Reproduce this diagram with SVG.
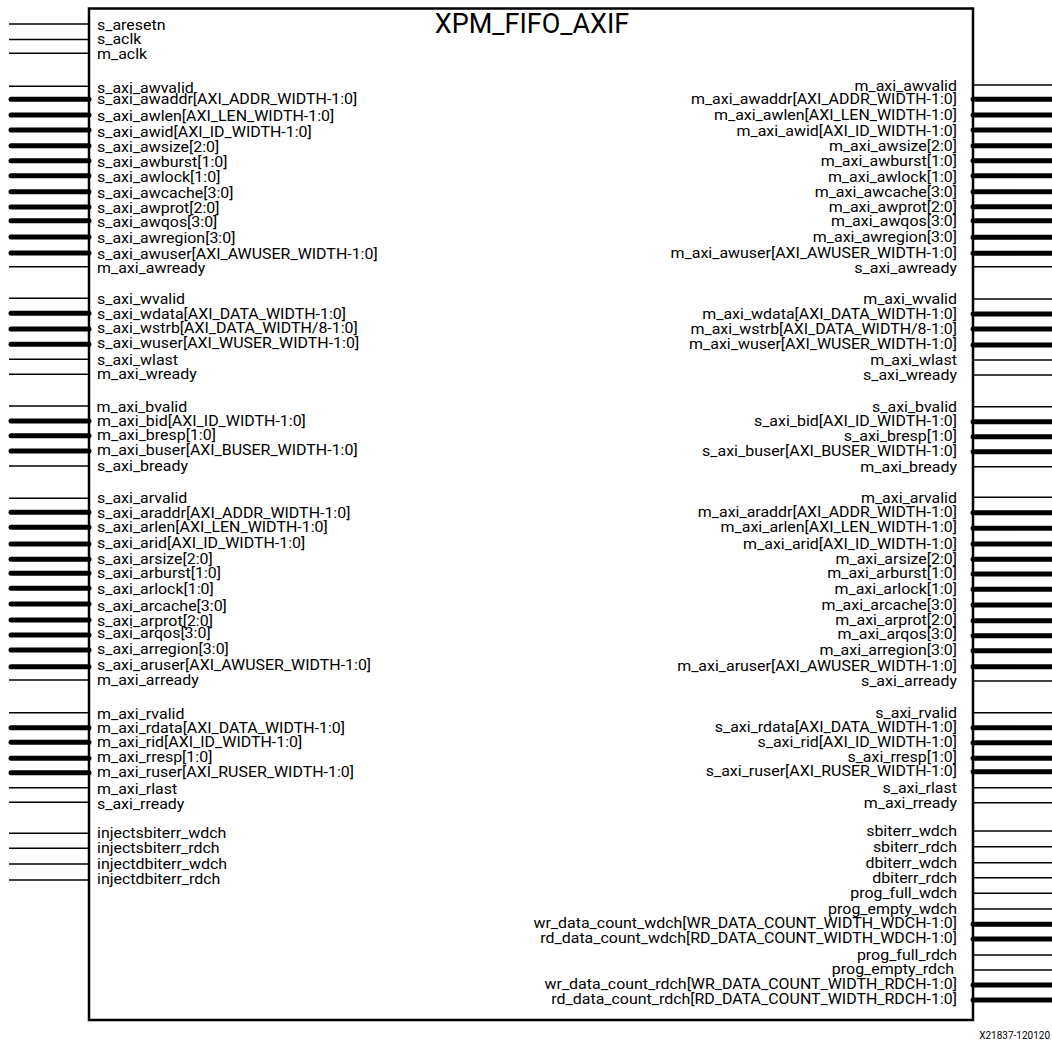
<svg xmlns="http://www.w3.org/2000/svg" width="1052" height="1042" viewBox="0 0 1052 1042">
<style>
.t{stroke:#000;stroke-width:1.5;fill:none}
.b{stroke:#000;stroke-width:5;stroke-linecap:round;fill:none}
.lbl{font-family:Roboto,"Liberation Sans",sans-serif;font-size:14.5px;fill:#000}
.r{text-anchor:end}
.title{font-family:Roboto,"Liberation Sans",sans-serif;font-size:27px;fill:#000;text-anchor:middle}
.foot{font-family:Roboto,"Liberation Sans",sans-serif;font-size:10px;fill:#000;text-anchor:end}
</style>
<rect width="1052" height="1042" fill="#fff"/>
<g id="connectors">
<g id="left-pins">
<line class="t" x1="9" y1="24" x2="89" y2="24"/>
<line class="t" x1="9" y1="39.5" x2="89" y2="39.5"/>
<line class="t" x1="9" y1="53.3" x2="89" y2="53.3"/>
<line class="t" x1="9" y1="86.3" x2="89" y2="86.3"/>
<line class="b" x1="11" y1="99.3" x2="89" y2="99.3"/>
<line class="b" x1="11" y1="115" x2="89" y2="115"/>
<line class="b" x1="11" y1="130" x2="89" y2="130"/>
<line class="b" x1="11" y1="145.7" x2="89" y2="145.7"/>
<line class="b" x1="11" y1="160.7" x2="89" y2="160.7"/>
<line class="b" x1="11" y1="175.7" x2="89" y2="175.7"/>
<line class="b" x1="11" y1="191.7" x2="89" y2="191.7"/>
<line class="b" x1="11" y1="207" x2="89" y2="207"/>
<line class="b" x1="11" y1="220.7" x2="89" y2="220.7"/>
<line class="b" x1="11" y1="237" x2="89" y2="237"/>
<line class="b" x1="11" y1="253" x2="89" y2="253"/>
<line class="t" x1="9" y1="266.7" x2="89" y2="266.7"/>
<line class="t" x1="9" y1="298.3" x2="89" y2="298.3"/>
<line class="b" x1="11" y1="313.3" x2="89" y2="313.3"/>
<line class="b" x1="11" y1="329" x2="89" y2="329"/>
<line class="b" x1="11" y1="344.3" x2="89" y2="344.3"/>
<line class="t" x1="9" y1="359.3" x2="89" y2="359.3"/>
<line class="t" x1="9" y1="374.3" x2="89" y2="374.3"/>
<line class="t" x1="9" y1="406" x2="89" y2="406"/>
<line class="b" x1="11" y1="421" x2="89" y2="421"/>
<line class="b" x1="11" y1="435.7" x2="89" y2="435.7"/>
<line class="b" x1="11" y1="451" x2="89" y2="451"/>
<line class="t" x1="9" y1="466" x2="89" y2="466"/>
<line class="t" x1="9" y1="498.3" x2="89" y2="498.3"/>
<line class="b" x1="11" y1="512.3" x2="89" y2="512.3"/>
<line class="b" x1="11" y1="527.3" x2="89" y2="527.3"/>
<line class="b" x1="11" y1="544" x2="89" y2="544"/>
<line class="b" x1="11" y1="559.3" x2="89" y2="559.3"/>
<line class="b" x1="11" y1="573.3" x2="89" y2="573.3"/>
<line class="b" x1="11" y1="588.3" x2="89" y2="588.3"/>
<line class="b" x1="11" y1="604" x2="89" y2="604"/>
<line class="b" x1="11" y1="620" x2="89" y2="620"/>
<line class="b" x1="11" y1="635" x2="89" y2="635"/>
<line class="b" x1="11" y1="650" x2="89" y2="650"/>
<line class="b" x1="11" y1="666.7" x2="89" y2="666.7"/>
<line class="t" x1="9" y1="680" x2="89" y2="680"/>
<line class="t" x1="9" y1="712.7" x2="89" y2="712.7"/>
<line class="b" x1="11" y1="727.7" x2="89" y2="727.7"/>
<line class="b" x1="11" y1="742.3" x2="89" y2="742.3"/>
<line class="b" x1="11" y1="758.3" x2="89" y2="758.3"/>
<line class="b" x1="11" y1="772.7" x2="89" y2="772.7"/>
<line class="t" x1="9" y1="787.7" x2="89" y2="787.7"/>
<line class="t" x1="9" y1="802.3" x2="89" y2="802.3"/>
<line class="t" x1="9" y1="833.3" x2="89" y2="833.3"/>
<line class="t" x1="9" y1="848.3" x2="89" y2="848.3"/>
<line class="t" x1="9" y1="864" x2="89" y2="864"/>
<line class="t" x1="9" y1="880" x2="89" y2="880"/>
</g>
<g id="right-pins">
<line class="t" x1="973" y1="85" x2="1052" y2="85"/>
<line class="b" x1="973" y1="99.3" x2="1056" y2="99.3"/>
<line class="b" x1="973" y1="115" x2="1056" y2="115"/>
<line class="b" x1="973" y1="130" x2="1056" y2="130"/>
<line class="b" x1="973" y1="145.7" x2="1056" y2="145.7"/>
<line class="b" x1="973" y1="160.7" x2="1056" y2="160.7"/>
<line class="b" x1="973" y1="175.7" x2="1056" y2="175.7"/>
<line class="b" x1="973" y1="191.7" x2="1056" y2="191.7"/>
<line class="b" x1="973" y1="206.7" x2="1056" y2="206.7"/>
<line class="b" x1="973" y1="220.7" x2="1056" y2="220.7"/>
<line class="b" x1="973" y1="237.3" x2="1056" y2="237.3"/>
<line class="b" x1="973" y1="253.3" x2="1056" y2="253.3"/>
<line class="t" x1="973" y1="266.7" x2="1052" y2="266.7"/>
<line class="t" x1="973" y1="299" x2="1052" y2="299"/>
<line class="b" x1="973" y1="314" x2="1056" y2="314"/>
<line class="b" x1="973" y1="329" x2="1056" y2="329"/>
<line class="b" x1="973" y1="345" x2="1056" y2="345"/>
<line class="t" x1="973" y1="360" x2="1052" y2="360"/>
<line class="t" x1="973" y1="375" x2="1052" y2="375"/>
<line class="t" x1="973" y1="406.7" x2="1052" y2="406.7"/>
<line class="b" x1="973" y1="421.7" x2="1056" y2="421.7"/>
<line class="b" x1="973" y1="436.7" x2="1056" y2="436.7"/>
<line class="b" x1="973" y1="451.7" x2="1056" y2="451.7"/>
<line class="t" x1="973" y1="466.7" x2="1052" y2="466.7"/>
<line class="t" x1="973" y1="497.3" x2="1052" y2="497.3"/>
<line class="b" x1="973" y1="512.7" x2="1056" y2="512.7"/>
<line class="b" x1="973" y1="528.3" x2="1056" y2="528.3"/>
<line class="b" x1="973" y1="544" x2="1056" y2="544"/>
<line class="b" x1="973" y1="559.3" x2="1056" y2="559.3"/>
<line class="b" x1="973" y1="574" x2="1056" y2="574"/>
<line class="b" x1="973" y1="589.3" x2="1056" y2="589.3"/>
<line class="b" x1="973" y1="605" x2="1056" y2="605"/>
<line class="b" x1="973" y1="620.7" x2="1056" y2="620.7"/>
<line class="b" x1="973" y1="635.7" x2="1056" y2="635.7"/>
<line class="b" x1="973" y1="650.7" x2="1056" y2="650.7"/>
<line class="b" x1="973" y1="666.7" x2="1056" y2="666.7"/>
<line class="t" x1="973" y1="681" x2="1052" y2="681"/>
<line class="t" x1="973" y1="712.7" x2="1052" y2="712.7"/>
<line class="b" x1="973" y1="727.7" x2="1056" y2="727.7"/>
<line class="b" x1="973" y1="742.7" x2="1056" y2="742.7"/>
<line class="b" x1="973" y1="758.3" x2="1056" y2="758.3"/>
<line class="b" x1="973" y1="771.7" x2="1056" y2="771.7"/>
<line class="t" x1="973" y1="787.7" x2="1052" y2="787.7"/>
<line class="t" x1="973" y1="802.7" x2="1052" y2="802.7"/>
<line class="t" x1="973" y1="831" x2="1052" y2="831"/>
<line class="t" x1="973" y1="846.7" x2="1052" y2="846.7"/>
<line class="t" x1="973" y1="862.7" x2="1052" y2="862.7"/>
<line class="t" x1="973" y1="877.7" x2="1052" y2="877.7"/>
<line class="t" x1="973" y1="893.3" x2="1052" y2="893.3"/>
<line class="t" x1="973" y1="909" x2="1052" y2="909"/>
<line class="b" x1="973" y1="924.3" x2="1056" y2="924.3"/>
<line class="b" x1="973" y1="939" x2="1056" y2="939"/>
<line class="t" x1="973" y1="955" x2="1052" y2="955"/>
<line class="t" x1="973" y1="970" x2="1052" y2="970"/>
<line class="b" x1="973" y1="985" x2="1056" y2="985"/>
<line class="b" x1="973" y1="1000" x2="1056" y2="1000"/>
</g>
</g>
<g id="xpm_fifo_axif">
<rect x="89" y="8.5" width="884" height="1011.5" fill="none" stroke="#000" stroke-width="2.5"/>
<text class="title" x="532" y="32.5">XPM_FIFO_AXIF</text>
<g id="left-labels" class="lbl" transform="translate(0 1) scale(1.1 1)">
<text x="88.2" y="29.3">s_aresetn</text>
<text x="88.2" y="42.7">s_aclk</text>
<text x="88.2" y="58.3">m_aclk</text>
<text x="88.2" y="91.7">s_axi_awvalid</text>
<text x="88.2" y="103.3">s_axi_awaddr[AXI_ADDR_WIDTH-1:0]</text>
<text x="88.2" y="120">s_axi_awlen[AXI_LEN_WIDTH-1:0]</text>
<text x="88.2" y="136">s_axi_awid[AXI_ID_WIDTH-1:0]</text>
<text x="88.2" y="151.5">s_axi_awsize[2:0]</text>
<text x="88.2" y="166">s_axi_awburst[1:0]</text>
<text x="88.2" y="181">s_axi_awlock[1:0]</text>
<text x="88.2" y="197.5">s_axi_awcache[3:0]</text>
<text x="88.2" y="212.5">s_axi_awprot[2:0]</text>
<text x="88.2" y="225.7">s_axi_awqos[3:0]</text>
<text x="88.2" y="241.7">s_axi_awregion[3:0]</text>
<text x="88.2" y="258.3">s_axi_awuser[AXI_AWUSER_WIDTH-1:0]</text>
<text x="88.2" y="271.7">m_axi_awready</text>
<text x="88.2" y="303.3">s_axi_wvalid</text>
<text x="88.2" y="318">s_axi_wdata[AXI_DATA_WIDTH-1:0]</text>
<text x="88.2" y="332.5">s_axi_wstrb[AXI_DATA_WIDTH/8-1:0]</text>
<text x="88.2" y="347">s_axi_wuser[AXI_WUSER_WIDTH-1:0]</text>
<text x="88.2" y="364">s_axi_wlast</text>
<text x="88.2" y="378.3">m_axi_wready</text>
<text x="87.7" y="411">m_axi_bvalid</text>
<text x="88.2" y="425">m_axi_bid[AXI_ID_WIDTH-1:0]</text>
<text x="88.2" y="439.3">m_axi_bresp[1:0]</text>
<text x="88.2" y="454">m_axi_buser[AXI_BUSER_WIDTH-1:0]</text>
<text x="88.2" y="470">s_axi_bready</text>
<text x="88.2" y="502.3">s_axi_arvalid</text>
<text x="88.2" y="516.7">s_axi_araddr[AXI_ADDR_WIDTH-1:0]</text>
<text x="88.2" y="531">s_axi_arlen[AXI_LEN_WIDTH-1:0]</text>
<text x="88.2" y="547.5">s_axi_arid[AXI_ID_WIDTH-1:0]</text>
<text x="88.2" y="563">s_axi_arsize[2:0]</text>
<text x="88.2" y="577">s_axi_arburst[1:0]</text>
<text x="88.2" y="593">s_axi_arlock[1:0]</text>
<text x="88.2" y="610">s_axi_arcache[3:0]</text>
<text x="88.2" y="625">s_axi_arprot[2:0]</text>
<text x="88.2" y="637">s_axi_arqos[3:0]</text>
<text x="88.2" y="653.5">s_axi_arregion[3:0]</text>
<text x="88.2" y="669.5">s_axi_aruser[AXI_AWUSER_WIDTH-1:0]</text>
<text x="88.2" y="684.5">m_axi_arready</text>
<text x="88.2" y="718">m_axi_rvalid</text>
<text x="88.2" y="732.5">m_axi_rdata[AXI_DATA_WIDTH-1:0]</text>
<text x="88.2" y="746.5">m_axi_rid[AXI_ID_WIDTH-1:0]</text>
<text x="88.2" y="761.5">m_axi_rresp[1:0]</text>
<text x="88.2" y="776">m_axi_ruser[AXI_RUSER_WIDTH-1:0]</text>
<text x="88.2" y="793">m_axi_rlast</text>
<text x="88.2" y="808">s_axi_rready</text>
<text x="88.2" y="836.7">injectsbiterr_wdch</text>
<text x="88.2" y="852.5">injectsbiterr_rdch</text>
<text x="88.2" y="867.7">injectdbiterr_wdch</text>
<text x="88.2" y="883.3">injectdbiterr_rdch</text>
</g>
<g id="right-labels" class="lbl r" transform="translate(0 1) scale(1.1 1)">
<text x="870" y="90">m_axi_awvalid</text>
<text x="870" y="103">m_axi_awaddr[AXI_ADDR_WIDTH-1:0]</text>
<text x="870" y="119.5">m_axi_awlen[AXI_LEN_WIDTH-1:0]</text>
<text x="870" y="135.5">m_axi_awid[AXI_ID_WIDTH-1:0]</text>
<text x="870" y="150.5">m_axi_awsize[2:0]</text>
<text x="870" y="165">m_axi_awburst[1:0]</text>
<text x="870" y="181">m_axi_awlock[1:0]</text>
<text x="870" y="196.5">m_axi_awcache[3:0]</text>
<text x="870" y="211.5">m_axi_awprot[2:0]</text>
<text x="870" y="225">m_axi_awqos[3:0]</text>
<text x="870" y="241.5">m_axi_awregion[3:0]</text>
<text x="870" y="257.5">m_axi_awuser[AXI_AWUSER_WIDTH-1:0]</text>
<text x="870" y="272">s_axi_awready</text>
<text x="870" y="303.5">m_axi_wvalid</text>
<text x="870" y="318">m_axi_wdata[AXI_DATA_WIDTH-1:0]</text>
<text x="870" y="333">m_axi_wstrb[AXI_DATA_WIDTH/8-1:0]</text>
<text x="870" y="348">m_axi_wuser[AXI_WUSER_WIDTH-1:0]</text>
<text x="870" y="364.5">m_axi_wlast</text>
<text x="870" y="379">s_axi_wready</text>
<text x="870" y="411">s_axi_bvalid</text>
<text x="870" y="425">s_axi_bid[AXI_ID_WIDTH-1:0]</text>
<text x="870" y="440">s_axi_bresp[1:0]</text>
<text x="870" y="455">s_axi_buser[AXI_BUSER_WIDTH-1:0]</text>
<text x="870" y="471">m_axi_bready</text>
<text x="870" y="502">m_axi_arvalid</text>
<text x="870" y="516">m_axi_araddr[AXI_ADDR_WIDTH-1:0]</text>
<text x="870" y="531.5">m_axi_arlen[AXI_LEN_WIDTH-1:0]</text>
<text x="870" y="548">m_axi_arid[AXI_ID_WIDTH-1:0]</text>
<text x="870" y="563">m_axi_arsize[2:0]</text>
<text x="870" y="577">m_axi_arburst[1:0]</text>
<text x="870" y="593">m_axi_arlock[1:0]</text>
<text x="870" y="609">m_axi_arcache[3:0]</text>
<text x="870" y="624">m_axi_arprot[2:0]</text>
<text x="870" y="638.5">m_axi_arqos[3:0]</text>
<text x="870" y="654">m_axi_arregion[3:0]</text>
<text x="870" y="670">m_axi_aruser[AXI_AWUSER_WIDTH-1:0]</text>
<text x="870" y="685">s_axi_arready</text>
<text x="870" y="717">s_axi_rvalid</text>
<text x="870" y="731">s_axi_rdata[AXI_DATA_WIDTH-1:0]</text>
<text x="870" y="746">s_axi_rid[AXI_ID_WIDTH-1:0]</text>
<text x="870" y="761.5">s_axi_rresp[1:0]</text>
<text x="870" y="775.5">s_axi_ruser[AXI_RUSER_WIDTH-1:0]</text>
<text x="870" y="792">s_axi_rlast</text>
<text x="870" y="807">m_axi_rready</text>
<text x="870" y="835.5">sbiterr_wdch</text>
<text x="870" y="851">sbiterr_rdch</text>
<text x="870" y="867">dbiterr_wdch</text>
<text x="870" y="882">dbiterr_rdch</text>
<text x="870" y="897.5">prog_full_wdch</text>
<text x="870" y="913">prog_empty_wdch</text>
<text x="870" y="927">wr_data_count_wdch[WR_DATA_COUNT_WIDTH_WDCH-1:0]</text>
<text x="870" y="942.5">rd_data_count_wdch[RD_DATA_COUNT_WIDTH_WDCH-1:0]</text>
<text x="870" y="959">prog_full_rdch</text>
<text x="867.3" y="973">prog_empty_rdch</text>
<text x="870" y="988.5">wr_data_count_rdch[WR_DATA_COUNT_WIDTH_RDCH-1:0]</text>
<text x="870" y="1003.5">rd_data_count_rdch[RD_DATA_COUNT_WIDTH_RDCH-1:0]</text>
</g>
</g>
<text class="foot" x="1050" y="1039">X21837-120120</text>
</svg>
